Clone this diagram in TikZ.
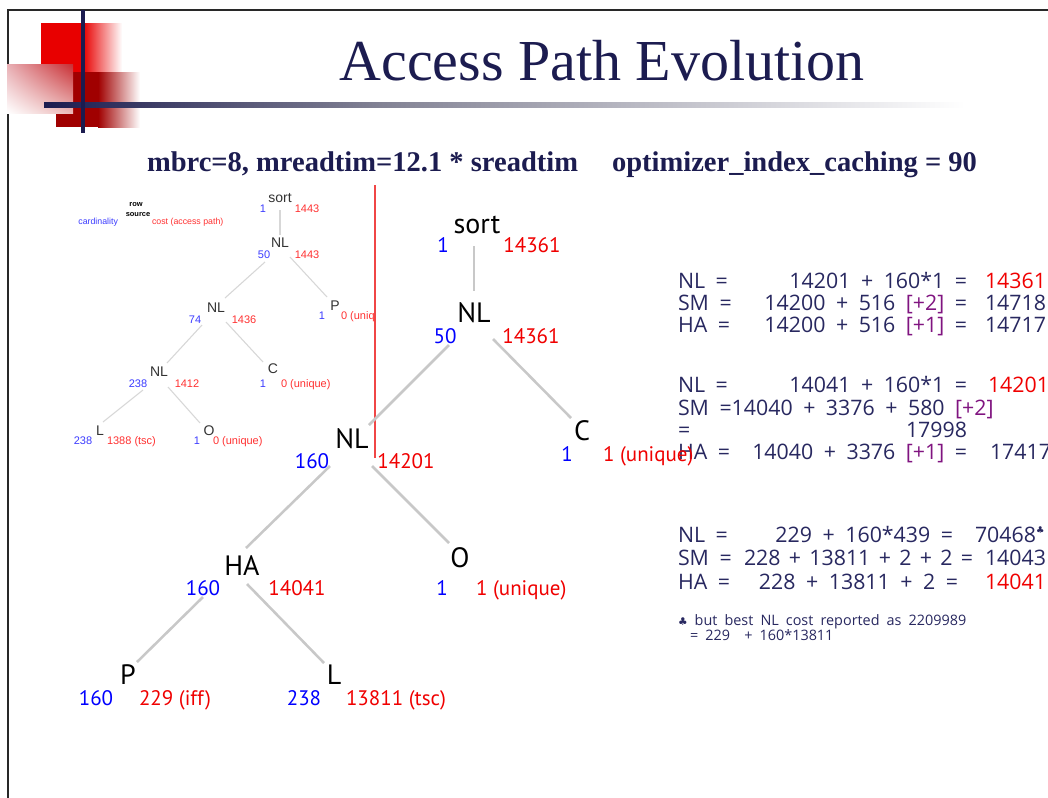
\documentclass[tikz,border=0pt]{standalone}
\usepackage{fontspec}
\setmainfont{Liberation Serif}
\newfontfamily\treefont{PT Sans}
\newfontfamily\smallfont{Liberation Sans}
\newfontfamily\calcfont[WordSpace=1.9]{Open Sans}
\newfontfamily\symfont{DejaVu Sans}
\usetikzlibrary{calc,shadings}

\definecolor{navy}{RGB}{28,28,80}
\definecolor{calcnavy}{RGB}{40,40,96}
\definecolor{calcpurple}{RGB}{128,20,128}
\definecolor{cardblue}{RGB}{0,0,255}
\definecolor{costred}{RGB}{240,0,0}
\definecolor{smblue}{RGB}{60,60,255}
\definecolor{smred}{RGB}{255,50,50}
\definecolor{edgegray}{RGB}{200,200,200}
\definecolor{smedgegray}{RGB}{215,215,215}
\definecolor{logored}{RGB}{232,0,0}
\definecolor{logodark}{RGB}{160,0,0}
\definecolor{logopink}{RGB}{200,45,50}
\definecolor{pinkA}{RGB}{232,175,180}
\definecolor{pinkB}{RGB}{235,185,185}
\definecolor{bargray}{RGB}{130,130,148}
\definecolor{framegray}{RGB}{40,40,40}
\definecolor{divred}{RGB}{240,70,70}

\newcommand{\pur}[1]{\textcolor{calcpurple}{#1}}
\newcommand{\clubmark}{{\symfont\fontsize{7}{7}\selectfont\raisebox{7pt}{♣}}}

\begin{document}
\begin{tikzpicture}[x=0.75pt,y=-0.75pt,inner sep=0pt,outer sep=0pt,
  titletext/.style={font=\fontsize{43.5}{44}\selectfont,text=navy,anchor=base},
  subtext/.style={font=\bfseries\fontsize{21.4}{22}\selectfont,text=navy,anchor=base west},
  bigop/.style={font=\treefont\fontsize{21}{21}\selectfont,anchor=base},
  bigcard/.style={font=\treefont\fontsize{15.75}{16}\selectfont,text=cardblue,anchor=base},
  bigcost/.style={font=\treefont\fontsize{15.75}{16}\selectfont,text=costred,anchor=base},
  bigedge/.style={draw=edgegray,line width=1.9pt},
  smop/.style={font=\smallfont\fontsize{10.5}{11}\selectfont,text=black!80,anchor=base},
  smcard/.style={font=\smallfont\fontsize{8.25}{9}\selectfont,text=smblue,anchor=base},
  smcost/.style={font=\smallfont\fontsize{8.25}{9}\selectfont,text=smred,anchor=base},
  smedge/.style={draw=smedgegray,line width=0.8pt},
  calc/.style={font=\calcfont\fontsize{16}{16}\selectfont,text=calcnavy},
  note/.style={font=\calcfont\fontsize{10.8}{11}\selectfont,text=calcnavy,anchor=base west}]

\useasboundingbox (0,0) rectangle (1048,797);
\fill[white] (0,0) rectangle (1048,797);

% slide frame
\draw[framegray,line width=0.9pt] (1050,10) -- (8,10) -- (8,800);

% logo blocks
\fill[logored] (41,23) rectangle (83.5,72);
\shade[left color=logored,right color=white] (83,23) rectangle (122,72);
\fill[logodark] (56,72) rectangle (98.5,127);
\shade[left color=logodark,right color=white] (98,72) rectangle (140,127);
\shade[upper right=logopink,upper left=pinkA,lower left=white,lower right=pinkB] (7,64) rectangle (73,113);
\shade[left color=navy,right color=bargray] (44,102) rectangle (380,107);
\shade[left color=bargray,right color=white] (379.5,102) rectangle (965,107);
\fill[navy] (81,10) rectangle (85,133);

% heading
\node[titletext] (title) at (602,80) {Access Path Evolution};
\node[subtext] (params) at (147,171) {mbrc=8, mreadtim=12.1 * sreadtim};
\node[subtext] (caching) at (612,171) {optimizer\_index\_caching = 90};

% small plan tree, partly hidden behind the large one
\begin{scope}
\clip (0,180) rectangle (374.5,470);
\node[font=\smallfont\bfseries\fontsize{5.6}{6}\selectfont,anchor=base] (lgrow) at (136,206) {row};
\node[font=\smallfont\bfseries\fontsize{5.6}{6}\selectfont,anchor=base] (lgsrc) at (138,216) {source};
\node[font=\smallfont\fontsize{6.6}{7}\selectfont,text=smblue,anchor=base east] (lgcard) at (118,224) {cardinality};
\node[font=\smallfont\fontsize{6.6}{7}\selectfont,text=smred,anchor=base west] (lgcost) at (152,224) {cost (access path)};

\node[smop] (s0) at (280,202) {sort};
\node[smcard] at (263,212) {1};
\node[smcost] at (307,212) {1443};
\node[smop] (s1) at (280,247) {NL};
\node[smcard] at (264,258) {50};
\node[smcost] at (307,258) {1443};
\node[smop] (s2) at (216,312) {NL};
\node[smcard] at (195,323) {74};
\node[smcost] at (244,323) {1436};
\node[smop] (sP) at (335,310) {P};
\node[smcard] at (322,319) {1};
\node[smcost,anchor=base west] at (341,319) {0 (unique)};
\node[smop] (sC) at (273,373) {C};
\node[smcard] at (263,387) {1};
\node[smcost,anchor=base west] at (281,387) {0 (unique)};
\node[smop] (s3) at (159,376) {NL};
\node[smcard] at (138,387) {238};
\node[smcost] at (187,387) {1412};
\node[smop] (sL) at (100,435) {L};
\node[smcard] at (83,444) {238};
\node[smcost,anchor=base west] at (107,444) {1388 (tsc)};
\node[smop] (sO) at (209,435) {O};
\node[smcard] at (197,444) {1};
\node[smcost,anchor=base west] at (213,444) {0 (unique)};

\draw[smedge] ($(s0.base)+(0,8)$) -- ($(s1.base)+(0,-12)$);
\draw[smedge] ($(s1.base)+(-15,15)$) -- ($(s2.base)+(9,-14)$);
\draw[smedge] ($(s1.base)+(10,10)$) -- ($(sP.base)+(-8,-13)$);
\draw[smedge] ($(s2.base)+(-14,13)$) -- ($(s3.base)+(8,-13)$);
\draw[smedge] ($(s2.base)+(10,10)$) -- ($(sC.base)+(-10,-11)$);
\draw[smedge] ($(s3.base)+(-16,14)$) -- ($(sL.base)+(3,-13)$);
\draw[smedge] ($(s3.base)+(9,11)$) -- ($(sO.base)+(-9,-12)$);
\end{scope}

% divider between the two trees
\draw[divred,line width=0.8pt] (375,185) -- (375,458);

% cost calculations
\node[calc,anchor=base west] (n1) at (678,288.5) {NL =};
\node[calc,anchor=base east] (n1e) at (967,288.5) {14201 + 160*1 =};
\node[calc,anchor=base west,text=costred] (n1r) at (985,288.5) {14361};
\node[calc,anchor=base west] (m1) at (678,310.5) {SM =};
\node[calc,anchor=base east] (m1e) at (967,310.5) {14200 + 516 \pur{[+2]} =};
\node[calc,anchor=base west] (m1r) at (985,310.5) {14718};
\node[calc,anchor=base west] (h1) at (678,332.5) {HA =};
\node[calc,anchor=base east] (h1e) at (967,332.5) {14200 + 516 \pur{[+1]} =};
\node[calc,anchor=base west] (h1r) at (985,332.5) {14717};

\node[calc,anchor=base west] (n2) at (678,392.5) {NL =};
\node[calc,anchor=base east] (n2e) at (967,392.5) {14041 + 160*1 =};
\node[calc,anchor=base west,text=costred] (n2r) at (988,392.5) {14201};
\node[calc,anchor=base west] (m2) at (678,415.5) {SM =14040 + 3376 + 580 \pur{[+2]}};
\node[calc,anchor=base west] (m2eq) at (678,437.5) {=};
\node[calc,anchor=base east] (m2r) at (967,437.5) {17998};
\node[calc,anchor=base west] (h2) at (678,459.5) {HA =};
\node[calc,anchor=base east] (h2e) at (967,459.5) {14040 + 3376 \pur{[+1]} =};
\node[calc,anchor=base west] (h2r) at (990,459.5) {17417};

\node[calc,anchor=base west] (n3) at (678,542.5) {NL =};
\node[calc,anchor=base east] (n3e) at (953,542.5) {229 + 160*439 =};
\node[calc,anchor=base west] (n3r) at (975,542.5) {70468\clubmark};
\node[calc,anchor=base west] (m3) at (678,565.5) {SM =};
\node[calc,anchor=base east] (m3e) at (973,565.5) {\spaceskip=0.39em plus 0.1em\relax 228 + 13811 + 2 + 2 =};
\node[calc,anchor=base west] (m3r) at (985,565.5) {14043};
\node[calc,anchor=base west] (h3) at (678,589.5) {HA =};
\node[calc,anchor=base east] (h3e) at (958,589.5) {228 + 13811 + 2 =};
\node[calc,anchor=base west,text=costred] (h3r) at (985,589.5) {14041};

\node[note] (fn1) at (678,625) {{\symfont\fontsize{8}{8}\selectfont ♣} but best NL cost reported as 2209989};
\node[note] (fn2) at (690,640) {= 229\ \ + 160*13811};

% large plan tree
\node[bigop] (sort) at (477,233) {sort};
\node[bigcard] at (443,252) {1};
\node[bigcost] at (532,252) {14361};
\node[bigop] (nlA) at (474,322) {NL};
\node[bigcard] at (445,343) {50};
\node[bigcost] at (531,343) {14361};
\node[bigop] (nlB) at (352,448) {NL};
\node[bigcard] at (312,468) {160};
\node[bigcost] at (406,468) {14201};
\node[bigop] (tC) at (582,440) {C};
\node[bigcard] at (567,461) {1};
\node[bigcost,anchor=base west] at (603,461) {1 (unique)};
\node[bigop] (ha) at (242,575) {HA};
\node[bigcard] at (203,595) {160};
\node[bigcost] at (297,595) {14041};
\node[bigop] (tO) at (460,567) {O};
\node[bigcard] at (442,595) {1};
\node[bigcost,anchor=base west] at (476,595) {1 (unique)};
\node[bigop] (tP) at (128,684) {P};
\node[bigcard] at (96,705) {160};
\node[bigcost,anchor=base west] at (139,705) {229 (iff)};
\node[bigop] (tL) at (334,684) {L};
\node[bigcard] at (304,705) {238};
\node[bigcost,anchor=base west] at (346,705) {13811 (tsc)};

\draw[bigedge] ($(sort.base)+(-3,13)$) -- ($(nlA.base)+(0,-31)$);
\draw[bigedge] ($(nlA.base)+(-25,23)$) -- ($(nlB.base)+(17,-23)$);
\draw[bigedge] ($(nlA.base)+(19,17)$) -- ($(tC.base)+(-11,-22)$);
\draw[bigedge] ($(nlB.base)+(-22,18)$) -- ($(ha.base)+(4,-27)$);
\draw[bigedge] ($(nlB.base)+(20,18)$) -- ($(tO.base)+(-11,-24)$);
\draw[bigedge] ($(ha.base)+(-39,22)$) -- ($(tP.base)+(9,-22)$);
\draw[bigedge] ($(ha.base)+(5,9)$) -- ($(tL.base)+(-10,-21)$);
\end{tikzpicture}
\end{document}
